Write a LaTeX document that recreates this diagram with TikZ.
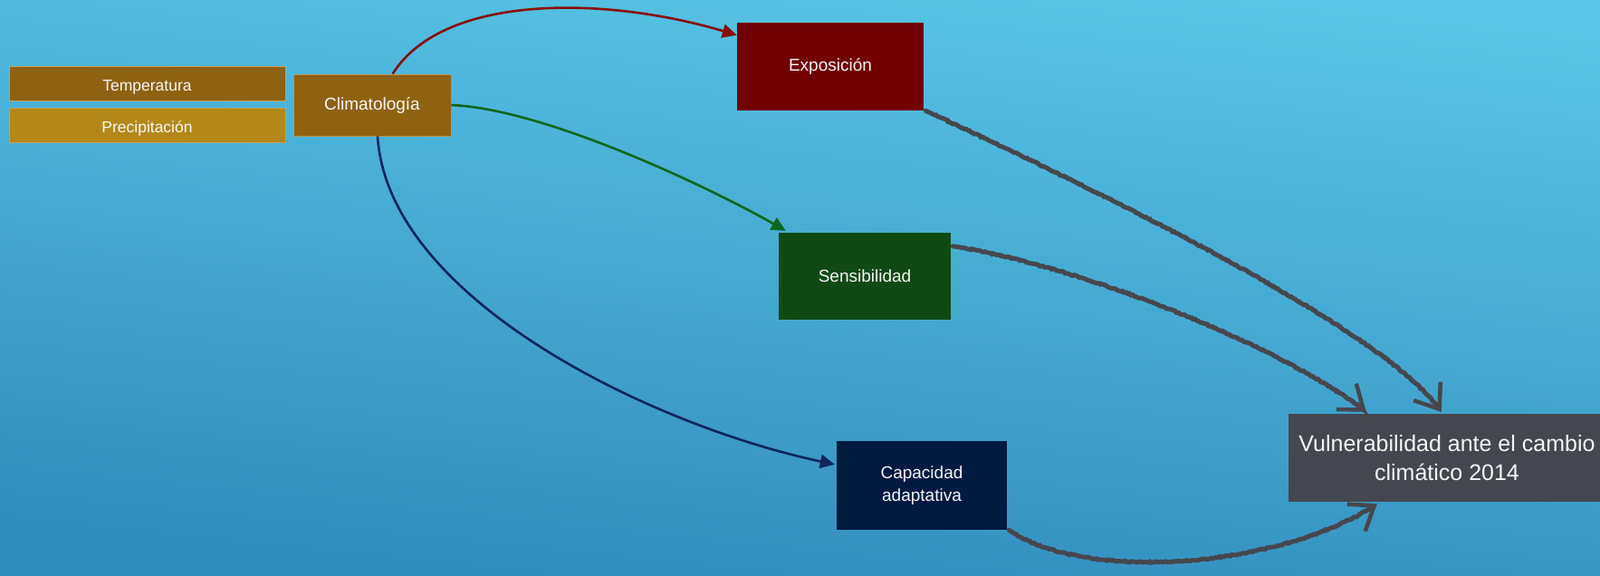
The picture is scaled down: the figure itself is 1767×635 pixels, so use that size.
\documentclass[tikz,border=0pt]{standalone}
\usepackage{fontspec}
\setmainfont{Liberation Sans}
\usetikzlibrary{arrows.meta,calc,decorations.pathmorphing}
\definecolor{bgtop}{RGB}{88,198,230}
\definecolor{bgbot}{RGB}{49,139,187}
\definecolor{brownA}{RGB}{143,98,18}
\definecolor{brownB}{RGB}{180,136,24}
\definecolor{brownEdge}{RGB}{200,160,90}
\definecolor{expoC}{RGB}{115,0,0}
\definecolor{sensC}{RGB}{16,74,19}
\definecolor{capC}{RGB}{0,26,66}
\definecolor{vulnC}{RGB}{68,71,79}
\definecolor{redA}{RGB}{140,12,12}
\definecolor{greenA}{RGB}{14,104,28}
\definecolor{blueA}{RGB}{12,38,92}
\definecolor{grayA}{RGB}{70,71,78}
\definecolor{txt}{RGB}{245,245,245}
\tikzset{
  box/.style={rectangle, inner sep=0pt, text=txt, align=center},
  smallbox/.style={box, minimum width=305pt, minimum height=38pt, draw=brownEdge, line width=0.8pt,
    font=\fontsize{17.5}{21}\selectfont, text height=16pt, text depth=0pt},
  midbox/.style={box, font=\fontsize{19}{25}\selectfont},
  colarrow/.style={line width=2.6pt, -{Triangle[length=16pt,width=15pt]}},
  sketch/.style={draw=grayA, line width=5pt, line cap=round, decorate,
    decoration={random steps, segment length=2pt, amplitude=0.7pt, pre length=6pt, post length=6pt},
    -{Straight Barb[length=24pt,width=36pt,line width=4.5pt]}},
}
\begin{document}
\begin{tikzpicture}[x=1pt,y=-1pt]
\useasboundingbox (0,0) rectangle (1767,635);
\clip (0,0) rectangle (1767,635);
\shade[top color=bgtop, bottom color=bgbot, shading angle=-6] (0,0) rectangle (1767,635);

\node[smallbox, fill=brownA] (temp) at (162.5,92) {Temperatura};
\node[smallbox, fill=brownB] (prec) at (162.5,138) {Precipitación};
\node[midbox, fill=brownA, draw=brownEdge!80!brownA, line width=0.8pt, minimum width=174pt, minimum height=68pt] (clim) at (411,116) {Climatología};
\node[midbox, fill=expoC, minimum width=206pt, minimum height=97pt] (expo) at (917,73.5) {Exposición};
\node[midbox, fill=sensC, minimum width=190pt, minimum height=96pt] (sens) at (955,305) {Sensibilidad};
\node[midbox, fill=capC, minimum width=188pt, minimum height=98pt] (cap) at (1018,536) {Capacidad\\adaptativa};
\node[box, fill=vulnC, minimum width=350pt, minimum height=97pt, font=\fontsize{25}{32}\selectfont] (vuln) at (1598,505.5) {Vulnerabilidad ante el cambio\\climático 2014};

\coordinate (climN) at ($(clim.north west)+(110,0)$);
\coordinate (climS) at ($(clim.south)+(6,0)$);
\coordinate (expoIn) at ($(expo.north west)+(0,14)$);
\coordinate (sensIn) at ($(sens.north west)+(8,-2)$);
\coordinate (capIn) at ($(cap.north west)+(-2,26)$);

\draw[colarrow, draw=redA] (climN) .. controls (490,-8) and (670,-4) .. (expoIn);
\draw[colarrow, draw=greenA] (clim.east) .. controls (600,120) and (780,205) .. (sensIn);
\draw[colarrow, draw=blueA] (climS) .. controls (428,330) and (720,470) .. (capIn);

\coordinate (vA) at ($(vuln.north west)+(169,-2)$);
\coordinate (vB) at ($(vuln.north west)+(86,-2)$);
\coordinate (vC) at ($(vuln.south west)+(98,2)$);

\draw[sketch] ($(expo.south east)+(2,0)$) .. controls (1250,228) and (1535,370) .. (vA);
\draw[sketch] ($(sens.north east)+(2,15)$) .. controls (1200,295) and (1420,385) .. (vB);
\draw[sketch] ($(cap.south east)+(2,0)$) .. controls (1200,645) and (1420,625) .. (vC);
\end{tikzpicture}
\end{document}
